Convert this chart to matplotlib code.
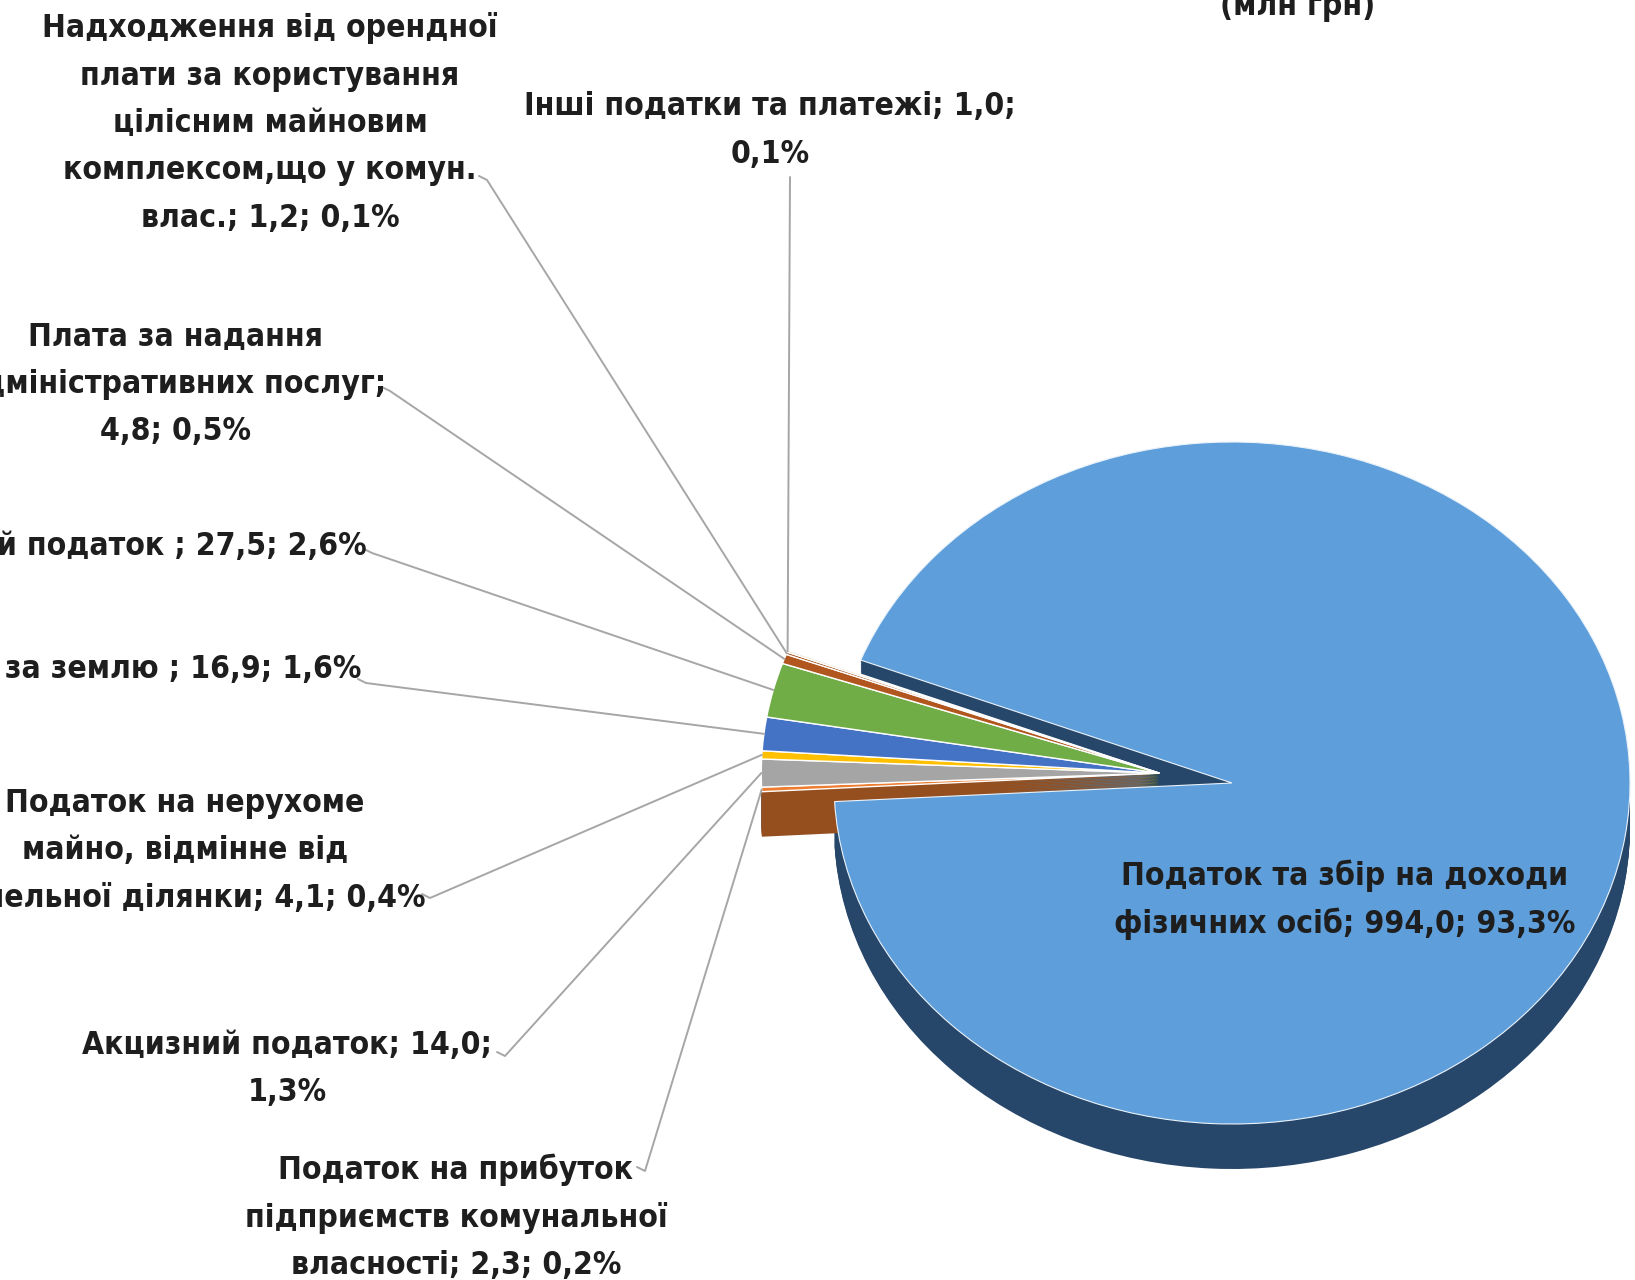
import os
import numpy as np
import matplotlib
matplotlib.use('Agg')
import matplotlib.pyplot as plt
from matplotlib import font_manager as fm
from matplotlib.transforms import Affine2D
from matplotlib.colors import to_rgb

# slices in Excel order (clockwise from the big one); '\n' marks the label wrapping
names = [
    'Податок та збір на доходи\nфізичних осіб',
    'Податок на прибуток\nпідприємств комунальної\nвласності',
    'Акцизний податок',
    'Податок на нерухоме\nмайно, відмінне від\nземельної ділянки',
    'Плата за землю ',
    'Єдиний податок ',
    'Плата за надання\nадміністративних послуг',
    'Надходження від орендної\nплати за користування\nцілісним майновим\nкомплексом,що у комун.\nвлас.',
    'Інші податки та платежі',
]
values = [994.0, 2.3, 14.0, 4.1, 16.9, 27.5, 4.8, 1.2, 1.0]
colors = ['#5E9FDB', '#ED7D31', '#A5A5A5', '#FFC000', '#4472C4',
          '#70AD47', '#B0561E', '#9E480E', '#E9DCC6']
title = '(млн грн)'

# separators between name / value / percent in each label
seps = [(' ', ' '), (' ', ' '), (' ', '\n'), (' ', ' '), (' ', ' '),
        (' ', ' '), ('\n', ' '), (' ', ' '), (' ', '\n')]

# layout (pixels, y from top)
W, H = 1635, 1280
CX, CY, RX, RY = 1232, 783, 398, 341
DEPTH_PX = 45
GAP_CENTER = 171.0
EXPLODE = 0.185
LINE_STEP = 47.5
BASE_OFF = 11

label_x = [1345, 456, 287, 185, 361, 367, 175, 270, 770]
label_y = [874, 1168, 1043, 801, 667, 544, 334, 26, 104]
label_ha = ['center', 'center', 'center', 'center', 'right', 'right',
            'center', 'center', 'center']
anchors = [None, (645, 1171), (505, 1056), (430, 898), (366, 683),
           (372, 553), (390, 391), (487, 180), (790, 177)]


def pick_font():
    prefs = ['LiberationSansNarrow-Bold.ttf', 'NotoSans-CondensedSemiBold.ttf',
             'NotoSans-SemiCondensedBold.ttf', 'NotoSans-CondensedBold.ttf',
             'DejaVuSansCondensed-Bold.ttf', 'RobotoCondensed-Bold.ttf']
    files = {}
    for f in list(fm.findSystemFonts()) + [e.fname for e in fm.fontManager.ttflist]:
        files[os.path.basename(f)] = f
    for p in prefs:
        if p in files:
            return fm.FontProperties(fname=files[p])
    return fm.FontProperties(family=['Liberation Sans', 'DejaVu Sans'], weight='bold')


def fmt(v):
    return ('%.1f' % v).replace('.', ',')


def darker(c, f):
    r, g, b = to_rgb(c)
    return (r * f, g * f, b * f)


total = sum(values)
pcts = [v / total * 100 for v in values]
labels = [n + ';' + s1 + fmt(v) + ';' + s2 + fmt(p) + '%'
          for n, v, p, (s1, s2) in zip(names, values, pcts, seps)]

side_colors = ['#27476A'] + [darker(c, 0.63) for c in colors[1:]]

fig = plt.figure(figsize=(W / 100, H / 100), dpi=100)
ax = fig.add_axes([0, 0, 1, 1])

gap = 360 * (total - values[0]) / total
start = GAP_CENTER - gap / 2
off = (EXPLODE * np.cos(np.radians(GAP_CENTER)),
       EXPLODE * np.sin(np.radians(GAP_CENTER)))
depth = DEPTH_PX / RY


def draw(center, cols, big, z, lw, ec):
    wedges, _ = ax.pie(values, colors=cols, startangle=start, counterclock=False,
                       center=center, radius=1,
                       wedgeprops=dict(linewidth=lw, edgecolor=ec))
    for i, w in enumerate(wedges):
        w.set_zorder(z)
        if (i == 0) != big:
            w.set_visible(False)
    return wedges


# sides: stacks of shifted, darker copies
for d in np.linspace(depth, depth / 30, 30):
    draw((0, -d), side_colors, True, 1, 0, 'none')
    draw((off[0], off[1] - d), side_colors, False, 2, 0, 'none')

# top faces
draw((0, 0), colors, True, 3, 0.8, '#EAF2FA')
small = draw(off, colors, False, 4, 1.0, 'white')

ax.set_aspect('auto')
ax.set_xlim(-CX / RX, (W - CX) / RX)
ax.set_ylim((CY - H) / RY, CY / RY)
ax.axis('off')

pix = Affine2D().scale(1, -1).translate(0, H)

fp = pick_font()
renderer = fig.canvas.get_renderer()
probe = fig.text(0, 0, 'Надходження від орендної', fontproperties=fp, fontsize=20)
w20 = probe.get_window_extent(renderer).width
probe.remove()
fs = 20 * 456 / w20

for i, lab in enumerate(labels):
    for j, line in enumerate(lab.split('\n')):
        ax.text(label_x[i], label_y[i] + j * LINE_STEP + BASE_OFF, line,
                transform=pix, ha=label_ha[i], va='baseline',
                fontproperties=fp, fontsize=fs, color='#1E1E1E', zorder=6)

ax.text(1298, 15, title, transform=pix, ha='center', va='baseline',
        fontproperties=fp, fontsize=fs, color='#1E1E1E', zorder=6)

# leader lines from labels to the outer arc of the small slices
for i, w in enumerate(small):
    if anchors[i] is None:
        continue
    mid = np.radians((w.theta1 + w.theta2) / 2)
    pt = (w.center[0] + w.r * np.cos(mid), w.center[1] + w.r * np.sin(mid))
    dx, dy = ax.transData.transform(pt)
    sx, sy = dx, H - dy
    ax0, ay0 = anchors[i]
    if i == 8:
        xs, ys = [ax0, sx], [ay0, sy]
    else:
        xs, ys = [ax0 - 8, ax0, sx], [ay0 - 4, ay0, sy]
    ax.plot(xs, ys, transform=pix, color='#A6A6A6', lw=1.4, zorder=5,
            solid_capstyle='round')

fig.savefig('out.png', dpi=100)
